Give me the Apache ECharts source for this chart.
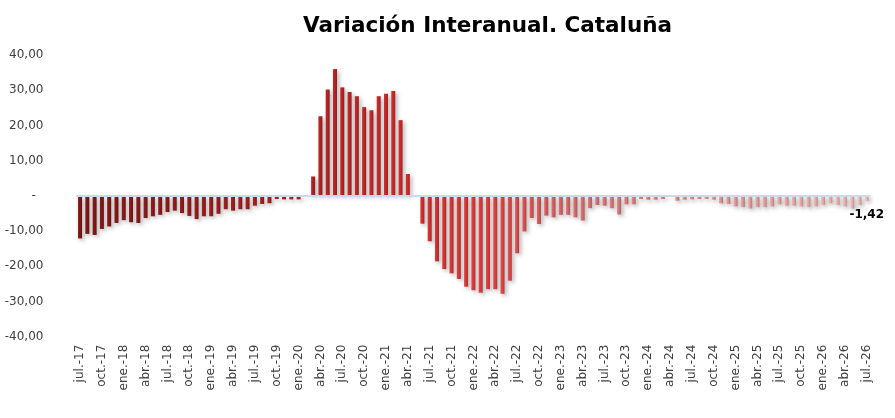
<!DOCTYPE html>
<html>
<head>
<meta charset="utf-8">
<script src="https://cdn.jsdelivr.net/npm/echarts@6/dist/echarts.min.js"></script>
<style>
html,body{margin:0;padding:0;background:#fff;}
#c{width:895px;height:418px;}
</style>
</head>
<body>
<div id="c"></div>
<script>
const titleText = 'Variación Interanual. Cataluña';

const categories = [
  'jul.-17','ago.-17','sep.-17','oct.-17','nov.-17','dic.-17',
  'ene.-18','feb.-18','mar.-18','abr.-18','may.-18','jun.-18','jul.-18','ago.-18','sep.-18','oct.-18','nov.-18','dic.-18',
  'ene.-19','feb.-19','mar.-19','abr.-19','may.-19','jun.-19','jul.-19','ago.-19','sep.-19','oct.-19','nov.-19','dic.-19',
  'ene.-20','feb.-20','mar.-20','abr.-20','may.-20','jun.-20','jul.-20','ago.-20','sep.-20','oct.-20','nov.-20','dic.-20',
  'ene.-21','feb.-21','mar.-21','abr.-21','may.-21','jun.-21','jul.-21','ago.-21','sep.-21','oct.-21','nov.-21','dic.-21',
  'ene.-22','feb.-22','mar.-22','abr.-22','may.-22','jun.-22','jul.-22','ago.-22','sep.-22','oct.-22','nov.-22','dic.-22',
  'ene.-23','feb.-23','mar.-23','abr.-23','may.-23','jun.-23','jul.-23','ago.-23','sep.-23','oct.-23','nov.-23','dic.-23',
  'ene.-24','feb.-24','mar.-24','abr.-24','may.-24','jun.-24','jul.-24','ago.-24','sep.-24','oct.-24','nov.-24','dic.-24',
  'ene.-25','feb.-25','mar.-25','abr.-25','may.-25','jun.-25','jul.-25','ago.-25','sep.-25','oct.-25','nov.-25','dic.-25',
  'ene.-26','feb.-26','mar.-26','abr.-26','may.-26','jun.-26','jul.-26'
];

const values2017_2019 = [
  -12.1, -10.8, -11.1, -9.4, -8.7, -7.7,
  -6.9, -7.5, -7.7, -6.3, -5.8, -5.4, -4.6, -4.2, -4.9, -5.7, -6.6, -5.8,
  -5.8, -5.1, -3.8, -4.2, -3.8, -3.8, -2.8, -2.3, -2.1, -0.9, -1.0, -1.0
];
const values2020_2021 = [
  -1.0, -0.3, 5.5, 22.6, 30.2, 36.0, 30.8, 29.5, 28.3, 25.2, 24.3, 28.3,
  29.0, 29.8, 21.5, 6.2, 0, -7.9, -12.9, -18.6, -20.8, -22.0, -23.6, -25.8
];
const values2022_2023 = [
  -26.8, -27.5, -26.5, -26.5, -27.8, -24.1, -16.3, -10.1, -6.3, -8.0, -5.6, -6.1,
  -5.4, -5.4, -6.1, -7.0, -3.5, -2.6, -2.8, -3.5, -5.3, -2.4, -2.4, -0.9
];
const values2024_2026 = [
  -1.1, -1.1, -0.9, -0.3, -1.4, -1.1, -1.0, -0.9, -0.9, -1.1, -2.1, -2.3,
  -3.0, -3.2, -3.6, -3.2, -3.2, -3.0, -2.4, -2.8, -2.8, -3.0, -3.2, -3.0,
  -2.6, -2.1, -2.6, -3.0, -3.6, -2.6, -1.42
];
const values = [].concat(values2017_2019, values2020_2021, values2022_2023, values2024_2026);

const yMin = -40, yMax = 40, yStep = 10;

// colour ramp along time (style only)
const colorStops = [
  [0,   [122, 22, 22]],
  [30,  [165, 32, 32]],
  [45,  [200, 42, 42]],
  [55,  [214, 58, 58]],
  [70,  [206, 110, 110]],
  [108, [228, 180, 180]]
];
function rampColor(i) {
  for (let k = 0; k < colorStops.length - 1; k++) {
    const a = colorStops[k], b = colorStops[k + 1];
    if (i >= a[0] && i <= b[0]) {
      const t = (i - a[0]) / (b[0] - a[0]);
      return a[1].map((v, j) => Math.round(v + (b[1][j] - v) * t));
    }
  }
  return colorStops[colorStops.length - 1][1];
}
function rgb(c, f) {
  return 'rgb(' + c.map(v => Math.max(0, Math.min(255, Math.round(v * f)))).join(',') + ')';
}

const lastIdx = values.length - 1;
const seriesData = values.map((v, i) => {
  const c = rampColor(i);
  const item = {
    value: v,
    itemStyle: {
      color: new echarts.graphic.LinearGradient(0, 0, 1, 0, [
        { offset: 0, color: rgb(c, 1.12) },
        { offset: 0.5, color: rgb(c, 1.0) },
        { offset: 1, color: rgb(c, 0.82) }
      ])
    }
  };
  if (i === lastIdx) {
    item.label = {
      show: true,
      position: 'bottom',
      distance: 8,
      formatter: p => p.value.toFixed(2).replace('.', ','),
      fontFamily: 'DejaVu Sans',
      fontWeight: 'bold',
      fontSize: 12,
      color: '#000'
    };
  }
  return item;
});

const chart = echarts.init(document.getElementById('c'), null, { renderer: 'canvas' });
chart.setOption({
  animation: false,
  backgroundColor: '#ffffff',
  title: {
    text: titleText,
    left: 298,
    top: 10,
    textStyle: { fontFamily: 'DejaVu Sans', fontWeight: 'bold', fontSize: 21.5, color: '#000' }
  },
  grid: { left: 76.4, right: 24.6, top: 55, bottom: 81.3, containLabel: false },
  xAxis: {
    type: 'category',
    data: categories,
    boundaryGap: true,
    axisLine: { show: false, onZero: false },
    axisTick: { show: false },
    splitLine: { show: false },
    axisLabel: {
      interval: 2,
      rotate: 90,
      margin: 8,
      fontFamily: 'DejaVu Sans',
      fontSize: 12,
      color: '#404040',
      hideOverlap: false
    }
  },
  yAxis: {
    type: 'value',
    min: yMin,
    max: yMax,
    interval: yStep,
    axisLine: { show: false },
    axisTick: { show: false },
    splitLine: { show: false },
    axisLabel: {
      margin: 33,
      fontFamily: 'DejaVu Sans',
      fontSize: 12,
      color: '#404040',
      formatter: v => v === 0 ? '-  ' : v.toFixed(2).replace('.', ',')
    }
  },
  series: [{
    type: 'bar',
    data: seriesData,
    barWidth: 4,
    itemStyle: {
      shadowColor: 'rgba(0,0,0,0.32)',
      shadowBlur: 4,
      shadowOffsetX: 2,
      shadowOffsetY: 2
    },
    markLine: {
      silent: true,
      symbol: 'none',
      label: { show: false },
      lineStyle: { color: '#c9d9ee', width: 2, type: 'solid' },
      data: [{ yAxis: 0 }]
    },
    z: 3
  }]
});
</script>
</body>
</html>
